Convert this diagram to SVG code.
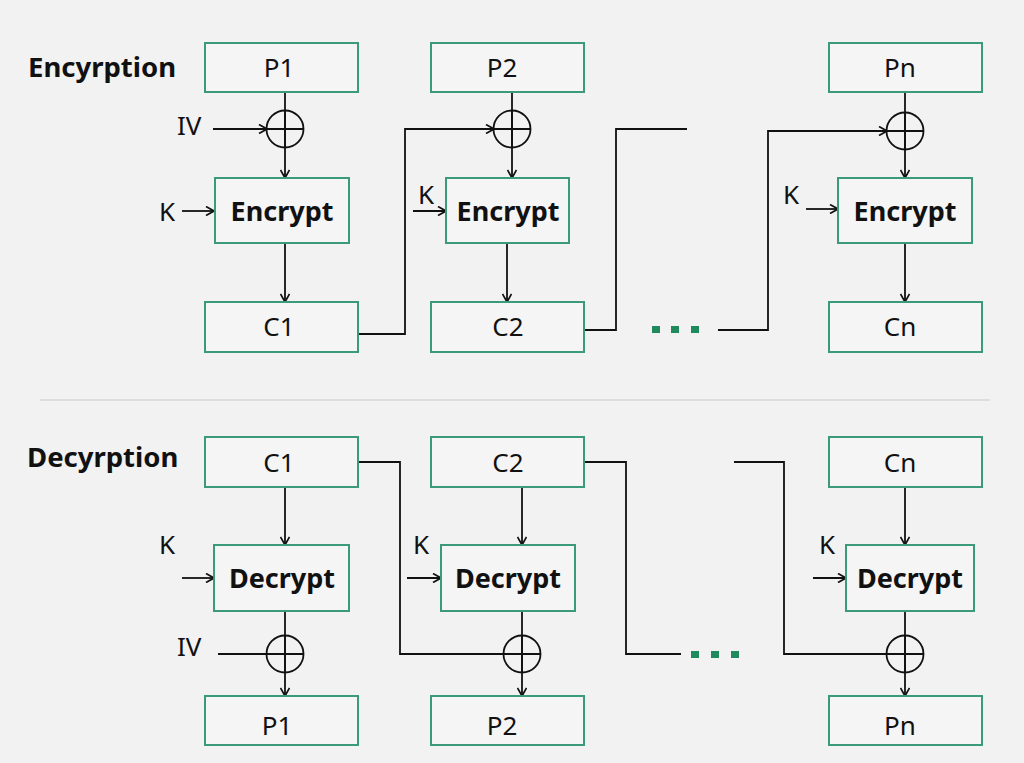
<svg xmlns="http://www.w3.org/2000/svg" width="1024" height="763" viewBox="0 0 1024 763">
<defs>
<marker id="ah" viewBox="0 0 10 10" refX="9" refY="5" markerWidth="10" markerHeight="10" markerUnits="userSpaceOnUse" orient="auto">
<path d="M1,0.5 L9,5 L1,9.5" fill="none" stroke="#111" stroke-width="1.7"/>
</marker>
<style>
.box{fill:#f5f5f5;stroke:#3a9a7a;stroke-width:2}
.t{font-family:"Noto Sans","Open Sans","Liberation Sans",sans-serif;font-size:26px;fill:#111;text-anchor:middle}
.lbl{font-family:"Noto Sans","Open Sans","Liberation Sans",sans-serif;font-size:26px;fill:#111}
.b{font-family:"Noto Sans","Open Sans","Liberation Sans",sans-serif;font-size:27px;font-weight:bold;fill:#111;text-anchor:middle}
.title{font-family:"Noto Sans","Open Sans","Liberation Sans",sans-serif;font-size:27.5px;font-weight:bold;fill:#111}
.ln{fill:none;stroke:#111;stroke-width:1.8}
.ar{fill:none;stroke:#111;stroke-width:1.8;marker-end:url(#ah)}
.xor{fill:none;stroke:#111;stroke-width:1.8}
.dot{fill:#1e8a5e}
</style>
</defs>
<rect width="1024" height="763" fill="#f2f2f2"/>
<line x1="40" y1="400" x2="990" y2="400" stroke="#d6d6d6" stroke-width="1.5"/>
<text class="title" x="28" y="77">Encyrption</text>
<text class="title" x="27" y="467">Decyrption</text>

<g id="connectors">
<!-- Encryption -->
<path class="ar" d="M213,129 L267,129"/>
<path class="ln" d="M285,92 L285,148"/>
<path class="ar" d="M285,148 L285,178"/>
<path class="ar" d="M182,211 L214,211"/>
<path class="ar" d="M285,243 L285,302"/>
<path class="ar" d="M358,334 L405,334 L405,129 L494,129"/>
<path class="ln" d="M512,92 L512,148"/>
<path class="ar" d="M512,148 L512,178"/>
<path class="ar" d="M413,211 L446,211"/>
<path class="ar" d="M507,243 L507,302"/>
<path class="ln" d="M584,330 L616,330 L616,129 L687,129"/>
<path class="ar" d="M718,330 L768,330 L768,131 L887,131"/>
<path class="ln" d="M905,92 L905,150"/>
<path class="ar" d="M905,150 L905,178"/>
<path class="ar" d="M806,209 L838,209"/>
<path class="ar" d="M905,243 L905,302"/>
<!-- Decryption -->
<path class="ar" d="M285,487 L285,545"/>
<path class="ar" d="M182,578 L214,578"/>
<path class="ar" d="M285,611 L285,696"/>
<path class="ln" d="M218,654 L285,654"/>
<path class="ln" d="M358,462 L400,462 L400,654 L522,654"/>
<path class="ar" d="M522,487 L522,545"/>
<path class="ar" d="M407,578 L441,578"/>
<path class="ar" d="M522,611 L522,696"/>
<path class="ln" d="M584,462 L626,462 L626,654 L681,654"/>
<path class="ln" d="M734,462 L784,462 L784,654 L905,654"/>
<path class="ar" d="M905,487 L905,545"/>
<path class="ar" d="M813,578 L846,578"/>
<path class="ar" d="M905,611 L905,696"/>
</g>

<g id="dots-enc">
<rect class="dot" x="652" y="326" width="8" height="7"/>
<rect class="dot" x="671" y="326" width="8" height="7"/>
<rect class="dot" x="691" y="326" width="8" height="7"/>
</g>
<g id="dots-dec">
<rect class="dot" x="691" y="651" width="8" height="7"/>
<rect class="dot" x="711" y="651" width="8" height="7"/>
<rect class="dot" x="731" y="651" width="8" height="7"/>
</g>

<!-- Encryption nodes -->
<g id="e-p1"><rect class="box" x="205" y="43" width="153" height="49"/><text class="t" x="279" y="77">P1</text></g>
<g id="e-xor1"><circle class="xor" cx="285" cy="129" r="18.5"/><path class="xor" d="M266.5,129 H303.5 M285,110.5 V147.5"/></g>
<g id="e-iv"><text class="lbl" x="177" y="135">IV</text></g>
<g id="e-k1"><text class="lbl" x="159" y="221">K</text></g>
<g id="e-enc1"><rect class="box" x="215" y="178" width="134" height="65"/><text class="b" x="282" y="221">Encrypt</text></g>
<g id="e-c1"><rect class="box" x="205" y="302" width="153" height="50"/><text class="t" x="279" y="336">C1</text></g>

<g id="e-p2"><rect class="box" x="431" y="43" width="153" height="49"/><text class="t" x="502" y="77">P2</text></g>
<g id="e-xor2"><circle class="xor" cx="512" cy="129" r="18.5"/><path class="xor" d="M493.5,129 H530.5 M512,110.5 V147.5"/></g>
<g id="e-k2"><text class="lbl" x="418" y="204">K</text></g>
<g id="e-enc2"><rect class="box" x="446" y="178" width="123" height="65"/><text class="b" x="508" y="221">Encrypt</text></g>
<g id="e-c2"><rect class="box" x="431" y="302" width="153" height="50"/><text class="t" x="508" y="336">C2</text></g>

<g id="e-pn"><rect class="box" x="829" y="43" width="153" height="49"/><text class="t" x="900" y="77">Pn</text></g>
<g id="e-xorn"><circle class="xor" cx="905" cy="131" r="18.5"/><path class="xor" d="M886.5,131 H923.5 M905,112.5 V149.5"/></g>
<g id="e-kn"><text class="lbl" x="783" y="204">K</text></g>
<g id="e-encn"><rect class="box" x="838" y="178" width="134" height="65"/><text class="b" x="905" y="221">Encrypt</text></g>
<g id="e-cn"><rect class="box" x="829" y="302" width="153" height="50"/><text class="t" x="900" y="336">Cn</text></g>

<!-- Decryption nodes -->
<g id="d-c1"><rect class="box" x="205" y="437" width="153" height="50"/><text class="t" x="279" y="472">C1</text></g>
<g id="d-k1"><text class="lbl" x="159" y="554">K</text></g>
<g id="d-dec1"><rect class="box" x="214" y="545" width="135" height="66"/><text class="b" x="282" y="588">Decrypt</text></g>
<g id="d-iv"><text class="lbl" x="177" y="656">IV</text></g>
<g id="d-xor1"><circle class="xor" cx="285" cy="654" r="18.5"/><path class="xor" d="M266.5,654 H303.5 M285,635.5 V672.5"/></g>
<g id="d-p1"><rect class="box" x="205" y="696" width="153" height="49"/><text class="t" x="277" y="735">P1</text></g>

<g id="d-c2"><rect class="box" x="431" y="437" width="153" height="50"/><text class="t" x="508" y="472">C2</text></g>
<g id="d-k2"><text class="lbl" x="413" y="554">K</text></g>
<g id="d-dec2"><rect class="box" x="441" y="545" width="134" height="66"/><text class="b" x="508" y="588">Decrypt</text></g>
<g id="d-xor2"><circle class="xor" cx="522" cy="654" r="18.5"/><path class="xor" d="M503.5,654 H540.5 M522,635.5 V672.5"/></g>
<g id="d-p2"><rect class="box" x="431" y="696" width="153" height="49"/><text class="t" x="502" y="735">P2</text></g>

<g id="d-cn"><rect class="box" x="829" y="437" width="153" height="50"/><text class="t" x="900" y="472">Cn</text></g>
<g id="d-kn"><text class="lbl" x="819" y="554">K</text></g>
<g id="d-decn"><rect class="box" x="846" y="545" width="128" height="66"/><text class="b" x="910" y="588">Decrypt</text></g>
<g id="d-xorn"><circle class="xor" cx="905" cy="654" r="18.5"/><path class="xor" d="M886.5,654 H923.5 M905,635.5 V672.5"/></g>
<g id="d-pn"><rect class="box" x="829" y="696" width="153" height="49"/><text class="t" x="900" y="735">Pn</text></g>
</svg>
